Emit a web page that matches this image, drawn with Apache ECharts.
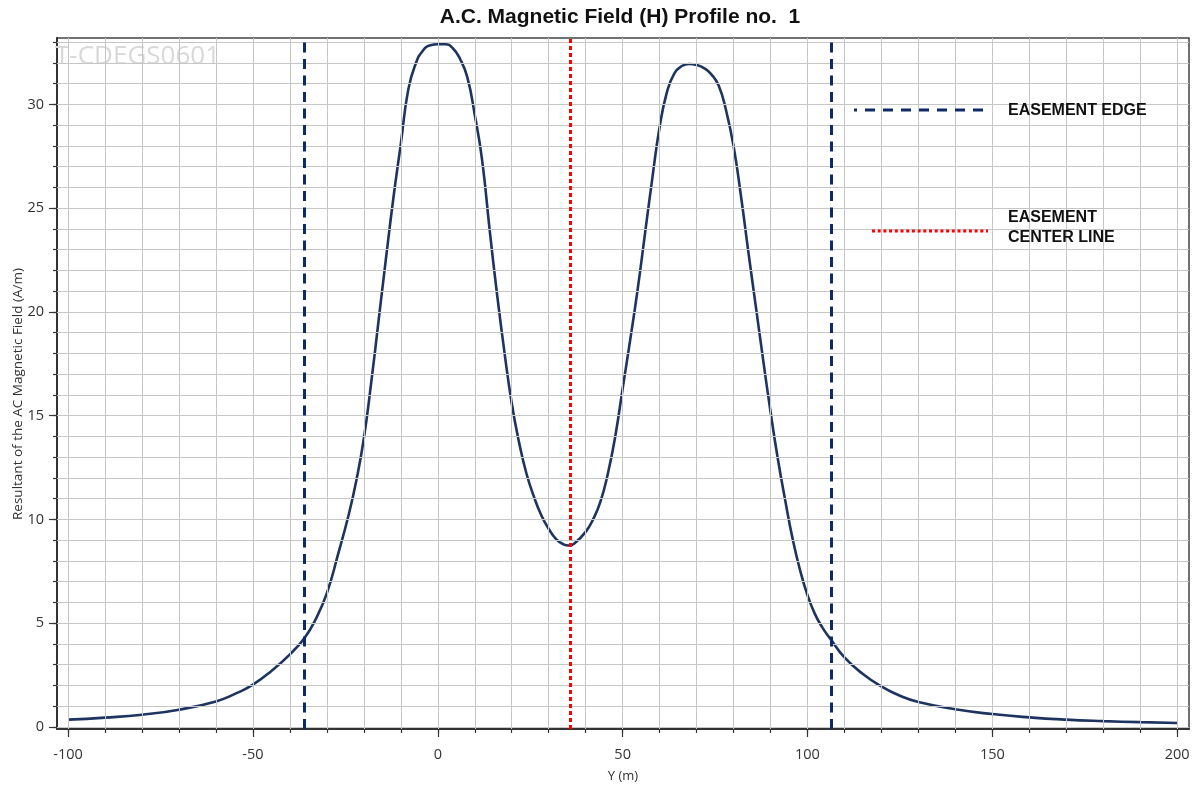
<!DOCTYPE html>
<html>
<head>
<meta charset="utf-8">
<title>A.C. Magnetic Field (H) Profile no. 1</title>
<script src="https://cdn.jsdelivr.net/npm/echarts@6/dist/echarts.min.js"></script>
<style>
  html, body { margin: 0; padding: 0; background: #fff; }
  #chart { width: 1199px; height: 789px; }
</style>
</head>
<body>
<div id="chart"></div>
<script>
// Lateral position along the profile (m)
const profileY = [
  -100, -90, -80, -70, -60, -55, -50, -45, -40, -36, -33, -30, -27, -24, -22, -20, -18, -16, -14, -12, -10,
  -8, -6, -4, -2, 0, 2, 4, 6, 8, 10, 12, 14, 16, 18, 20, 22, 24, 26, 28, 30,
  32, 34, 35.5, 37, 40, 42, 44, 46, 48, 50, 52, 54, 56, 58, 60, 62, 64, 66, 68, 70,
  72, 74, 76, 78, 80, 82, 84, 86, 88, 90, 92, 94, 96, 98, 100, 102, 104, 106.3, 110, 115, 120,
  125, 130, 140, 150, 160, 170, 180, 190, 200
];
// Resultant of the AC magnetic field (A/m)
const fieldH = [
  0.35, 0.45, 0.59, 0.83, 1.23, 1.58, 2.04, 2.7, 3.5, 4.3, 5.2, 6.45, 8.3, 10.3, 11.9, 13.9, 16.6, 19.6, 22.6, 25.5, 28.1,
  30.7, 31.95, 32.6, 32.85, 32.9, 32.9, 32.72, 32.2, 31.3, 29.5, 27.3, 24.0, 20.9, 18.1, 15.6, 13.7, 12.2, 11.1, 10.2, 9.55,
  9.05, 8.8, 8.74, 8.85, 9.4, 10.0, 10.86, 12.2, 14.0, 16.3, 18.6, 21.0, 23.7, 26.4, 28.9, 30.6, 31.5, 31.85, 31.95, 31.9,
  31.75, 31.45, 30.9, 29.7, 28.0, 25.6, 22.9, 20.3, 17.7, 15.2, 12.9, 10.9, 9.05, 7.55, 6.35, 5.45, 4.8, 4.22, 3.35, 2.55, 1.95,
  1.5, 1.2, 0.85, 0.62, 0.46, 0.35, 0.28, 0.23, 0.19
];
// Easement edges and easement centre line (m)
const easementEdges = [-36.1, 106.3];
const easementCenter = [35.7];

// Grid/tick positions and labelled values
const xMinorTicks = [-100, -90, -80, -70, -60, -50, -40, -30, -20, -10, 0, 10, 20, 30, 40, 50, 60, 70, 80, 90, 100, 110, 120, 130, 140, 150, 160, 170, 180, 190, 200];
const xMajorTicks = [-100, -50, 0, 50, 100, 150, 200];
const yMinorTicks = [0, 1, 2, 3, 4, 5, 6, 7, 8, 9, 10, 11, 12, 13, 14, 15, 16, 17, 18, 19, 20, 21, 22, 23, 24, 25, 26, 27, 28, 29, 30, 31, 32, 33];
const yMajorTicks = [0, 5, 10, 15, 20, 25, 30];

const X_MIN = -103, X_MAX = 203.2;
const Y_MIN = -0.1, Y_MAX = 33.2;

const TICK_FONT = '"Open Sans", "Noto Sans", sans-serif';
const BOLD_FONT = 'Arial, "Liberation Sans", sans-serif';
const GRID_COLOR = '#c6c6c6';
const EDGE_COLOR = '#0c2a66';
const CENTER_COLOR = '#ff0000';
const CURVE_COLOR = '#1d3461';

const chart = echarts.init(document.getElementById('chart'), null, { renderer: 'canvas' });

const baseX = { type: 'value', min: X_MIN, max: X_MAX, position: 'bottom' };
const baseY = { type: 'value', min: Y_MIN, max: Y_MAX, position: 'left' };

const gridLines = xMinorTicks.map(v => ({ xAxis: v })).concat(yMinorTicks.map(v => ({ yAxis: v })));

const option = {
  backgroundColor: '#ffffff',
  animation: false,
  grid: {
    left: 57, right: 10, top: 38, bottom: 60,
    outerBoundsMode: 'none',
    containLabel: false,
    show: true, borderColor: '#444', borderWidth: 1.5, backgroundColor: '#ffffff'
  },
  xAxis: [
    Object.assign({}, baseX, {
      name: 'Y (m)',
      nameLocation: 'middle',
      nameGap: 41,
      nameTextStyle: { fontFamily: TICK_FONT, fontSize: 13, color: '#333' },
      axisLine: { show: true, onZero: false, lineStyle: { color: '#333', width: 2 } },
      axisTick: { show: true, length: 4, customValues: xMinorTicks, lineStyle: { color: '#333', width: 1.2 } },
      axisLabel: {
        customValues: xMajorTicks, margin: 18, fontFamily: TICK_FONT, fontSize: 14.5, color: '#333',
        formatter: v => String(v)
      },
      splitLine: { show: false }
    }),
    Object.assign({}, baseX, {
      axisLine: { show: false, onZero: false },
      axisTick: { show: true, length: 8, customValues: xMajorTicks, lineStyle: { color: '#333', width: 1.2 } },
      axisLabel: { show: false },
      splitLine: { show: false }
    })
  ],
  yAxis: [
    Object.assign({}, baseY, {
      axisLine: { show: true, onZero: false, lineStyle: { color: '#333', width: 2 } },
      axisTick: { show: true, length: 4, customValues: yMinorTicks, lineStyle: { color: '#333', width: 1.2 } },
      axisLabel: {
        customValues: yMajorTicks, margin: 13, fontFamily: TICK_FONT, fontSize: 14.5, color: '#333',
        formatter: v => String(v)
      },
      splitLine: { show: false }
    }),
    Object.assign({}, baseY, {
      axisLine: { show: false, onZero: false },
      axisTick: { show: true, length: 8, customValues: yMajorTicks, lineStyle: { color: '#333', width: 1.2 } },
      axisLabel: { show: false },
      splitLine: { show: false }
    })
  ],
  graphic: [
    // Chart title
    {
      type: 'text', x: 620, y: 17, silent: true,
      style: {
        text: 'A.C. Magnetic Field (H) Profile no.  1', fill: '#111',
        font: 'bold 21px ' + BOLD_FONT, textAlign: 'center', textVerticalAlign: 'middle'
      }
    },
    // Vertical axis title
    {
      type: 'text', x: 18, y: 394, rotation: Math.PI / 2, silent: true,
      style: {
        text: 'Resultant of the AC Magnetic Field (A/m)', fill: '#333',
        font: '13.5px ' + TICK_FONT, textAlign: 'center', textVerticalAlign: 'middle'
      }
    },
    // Watermark in the plot corner
    {
      type: 'text', left: 55, top: 44, z: 1, silent: true,
      style: { text: 'T-CDEGS0601', fill: '#d8d8d8', font: '26px ' + TICK_FONT }
    },
    // Legend: easement edge
    {
      type: 'rect', z: 5, silent: true,
      shape: { x: 993, y: 98, width: 184, height: 26 },
      style: { fill: 'rgba(255,255,255,0.85)' }
    },
    {
      type: 'line', z: 6, silent: true,
      shape: { x1: 854, y1: 110, x2: 857, y2: 110 },
      style: { stroke: EDGE_COLOR, lineWidth: 3 }
    },
    {
      type: 'line', z: 6, silent: true,
      shape: { x1: 865, y1: 110, x2: 988, y2: 110 },
      style: { stroke: EDGE_COLOR, lineWidth: 3, lineDash: [10, 8] }
    },
    {
      type: 'text', left: 1008, top: 103, z: 7, silent: true,
      style: { text: 'EASEMENT EDGE', fill: '#111', font: 'bold 16px ' + BOLD_FONT }
    },
    // Legend: easement centre line
    {
      type: 'rect', z: 5, silent: true,
      shape: { x: 993, y: 204, width: 184, height: 48 },
      style: { fill: 'rgba(255,255,255,0.85)' }
    },
    {
      type: 'line', z: 6, silent: true,
      shape: { x1: 872, y1: 231, x2: 988, y2: 231 },
      style: { stroke: CENTER_COLOR, lineWidth: 3, lineDash: [3, 2.7] }
    },
    {
      type: 'text', left: 1008, top: 208, z: 7, silent: true,
      style: { text: 'EASEMENT\nCENTER LINE', fill: '#111', font: 'bold 16px ' + BOLD_FONT, lineHeight: 20 }
    }
  ],
  series: [
    {
      name: 'Grid',
      type: 'line',
      data: [],
      z: 1,
      markLine: {
        silent: true, symbol: 'none', animation: false,
        label: { show: false },
        lineStyle: { color: GRID_COLOR, width: 1, type: 'solid' },
        data: gridLines
      }
    },
    {
      name: 'Easement edge',
      type: 'line',
      data: [],
      z: 3,
      markLine: {
        silent: true, symbol: 'none', animation: false,
        label: { show: false },
        lineStyle: { color: EDGE_COLOR, width: 3, type: [10, 6.5] },
        data: easementEdges.map(v => ({ xAxis: v }))
      }
    },
    {
      name: 'Easement center line',
      type: 'line',
      data: [],
      z: 3,
      markLine: {
        silent: true, symbol: 'none', animation: false,
        label: { show: false },
        lineStyle: { color: CENTER_COLOR, width: 3, type: [4, 3] },
        data: easementCenter.map(v => ({ xAxis: v }))
      }
    },
    {
      name: 'H',
      type: 'line',
      data: profileY.map((y, i) => [y, fieldH[i]]),
      smooth: 0.5,
      showSymbol: false,
      symbol: 'none',
      lineStyle: { color: CURVE_COLOR, width: 2.6 },
      z: 4
    }
  ]
};

chart.setOption(option);
</script>
</body>
</html>
